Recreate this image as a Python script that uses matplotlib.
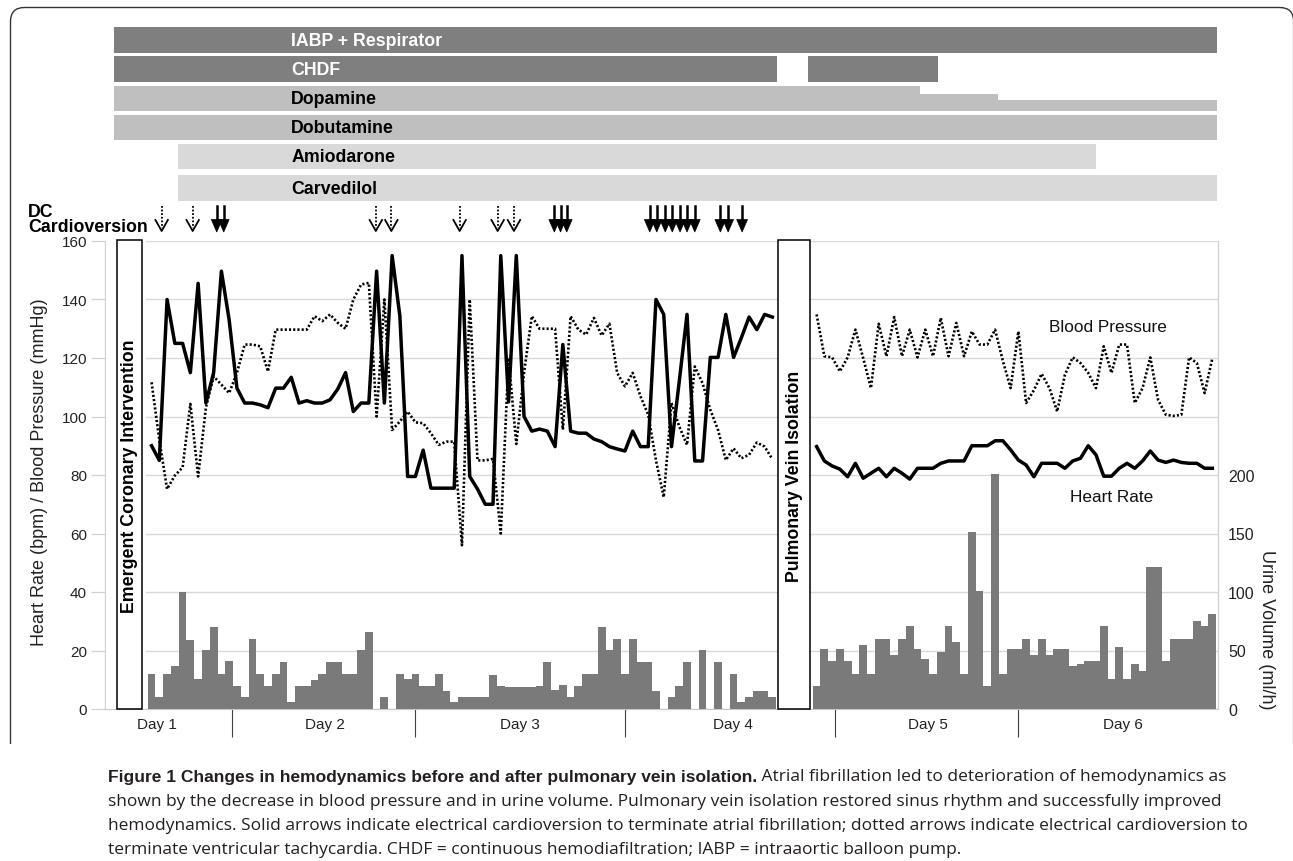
import numpy as np
import matplotlib
matplotlib.use("Agg")
import matplotlib.pyplot as plt
from matplotlib import font_manager
from matplotlib.patches import Rectangle, Polygon, PathPatch
from matplotlib.path import Path

plt.rcParams['font.family'] = ['Liberation Sans', 'DejaVu Sans']

# ---------------------------------------------------------------- data
# one value per measurement slot (approx. hourly), before PVI
hr_pre = [90, 85, 140, 125, 125, 115, 145.5, 104.6, 115, 149.7,
          133, 109.7, 104.6, 104.6, 104, 103, 109.7, 109.7, 113.4, 104.6,
          105.4, 104.6, 104.6, 105.7, 109.4, 115, 101.7, 104.6, 104.6, 149.7,
          104.6, 155, 134.3, 79.5, 79.5, 88.5, 75.5, 75.5, 75.5, 75.5,
          155, 79.5, 75.2, 70, 70, 155, 105, 155, 100, 95,
          95.7, 95, 89.7, 124.6, 95, 94.3, 94.3, 92.3, 91.4, 89.7,
          88.9, 88.2, 95, 89.7, 89.7, 140, 134.9, 89.7, 112, 134.9,
          84.8, 84.8, 120.2, 120.2, 134.9, 120.2, 126.9, 134, 129.7, 134.9,
          134]
bp_pre = [111.7, 92, 75.2, 79.8, 82.6, 104.3, 79.5, 103, 113.7, 110.9,
          108, 114.9, 124.6, 124.6, 124, 115.4, 129.7, 129.7, 129.7, 129.7,
          129.7, 134.3, 132.6, 134.9, 132, 130, 140, 145.1, 145.7, 100,
          140, 95.4, 98.3, 101.7, 98, 97.7, 94.3, 90.3, 91.4, 91.4,
          56, 140, 85, 85, 85.5, 60, 120, 90.6, 115, 134.3,
          130, 130, 130, 95.5, 134.3, 129.7, 128, 133.7, 127.7, 131.7,
          114.9, 110.3, 114.9, 106.9, 100.6, 85, 72.4, 104.6, 96.6, 90.3,
          117.1, 111.4, 102.3, 95.4, 85.1, 89.1, 85.7, 86.9, 91.1, 89.7,
          85.4]
urine_pre = [30, 10.5, 30, 37, 100, 59, 25.6, 50.7, 70.4, 30,
             40.7, 20, 10.5, 59.8, 30, 20, 30, 40, 6.3, 20,
             20, 24.8, 30, 40, 40, 30, 30, 50.7, 65.5, 0,
             10.5, 0, 30, 25.6, 30, 20, 20, 30, 15.1, 6.3,
             10.5, 10.5, 10.5, 10.5, 29.3, 20, 18.5, 18.5, 18.5, 18.5,
             20, 40.2, 16.2, 20.8, 10.5, 20, 30, 30, 70.4, 50.7,
             59.8, 30, 59.8, 40.2, 40.2, 15.1, 0, 10.5, 20, 40.2,
             0, 50.7, 0, 40.2, 0, 30, 6.3, 10.5, 15.1, 15.1,
             10.5]
# after pulmonary vein isolation
hr_post = [89.7, 84.8, 83.1, 82, 79.4, 84, 78.9, 80.6, 82.3, 79.4,
           82.3, 80.6, 78.6, 82.3, 82.3, 82.3, 84, 84.8, 84.8, 84.8,
           90, 90, 90, 91.7, 91.7, 88.6, 85.1, 83.4, 79.4, 84,
           84, 84, 82.3, 84.8, 85.7, 90, 86.9, 79.6, 79.6, 82.3,
           84, 82.3, 84.8, 88.2, 85.1, 84.3, 85.1, 84.3, 84, 84,
           82.3, 82.3]
bp_post = [134.9, 120.6, 120.2, 115.4, 120.2, 129.7, 120, 109.7, 131.7, 120.6,
           134, 120.6, 129.7, 120.2, 129.7, 120.6, 133.7, 120.6, 132, 120.6,
           129.1, 124.6, 124.6, 129.7, 119, 109.7, 129.1, 104.6, 109, 114.6,
           109.7, 101.7, 114.3, 120.2, 118.3, 114.9, 109.7, 124, 114.9, 124.6,
           124.6, 104.6, 109.7, 120.2, 105.7, 100.6, 100.2, 100.6, 120.2, 118.3,
           108, 120]
urine_post = [20, 50.9, 40.6, 50.9, 40.6, 30, 54.3, 30, 60, 60,
              46.3, 60, 70.6, 50.9, 42.9, 30, 49, 70.6, 57, 30,
              151.4, 100.9, 20, 200.9, 30, 51, 51, 60, 46, 60,
              46, 51, 51, 36.6, 38.6, 40.6, 40.6, 70.6, 25.7, 52.6,
              25.7, 38.6, 32.3, 121.4, 121.4, 40.6, 60, 60, 60, 75,
              70.6, 81]

# time index of each slot; the PVI procedure occupies a gap of ~4.7 slots
t_pre = np.arange(len(hr_pre))
t_post = len(hr_pre) + 4.7 + np.arange(len(hr_post))

day_labels = ["Day 1", "Day 2", "Day 3", "Day 4", "Day 5", "Day 6"]
day_bounds = [10.4, 33.9, 61.0, 88.1, 111.6]
day_centers = [0.7, 22.35, 47.5, 74.9, 100.1, 125.2]

therapy_names = ["IABP + Respirator", "CHDF", "Dopamine", "Dobutamine",
                 "Amiodarone", "Carvedilol"]
# (start, end, relative dose) in slot units
therapy_periods = [
    [(-4.84, 137.3, 1.0)],
    [(-4.84, 80.6, 1.0), (84.6, 101.3, 1.0)],
    [(-4.84, 99.0, 1.0), (99.0, 109.1, 0.67), (109.1, 137.3, 0.42)],
    [(-4.84, 137.3, 1.0)],
    [(3.37, 121.7, 1.0)],
    [(3.37, 137.3, 1.0)],
]
dc_vt = [1.3, 5.3, 28.9, 30.9, 39.7, 44.6, 46.7]              # dotted arrows
dc_af = [8.4, 9.3, 51.9, 52.7, 53.5, 64.2, 65.1, 66.2, 67.1,
         68.1, 69.0, 70.0, 73.3, 74.3, 76.1]                   # solid arrows

left_ticks = np.arange(0, 161, 20)
right_ticks = np.arange(0, 201, 50)
eci_span = (-4.49, -1.27)
pvi_span = (80.76, 84.85)

# ---------------------------------------------------------------- layout
W, H = 1293, 862
fig = plt.figure(figsize=(W / 100, H / 100), dpi=100)
fig.patch.set_facecolor('white')


def fbox(x0, y0, x1, y1):
    return [x0 / W, 1 - y1 / H, (x1 - x0) / W, (y1 - y0) / H]


XL = (-6.0, 137.36)
GRID = '#d9d9d9'

# base axes: grid + left axis + day ticks
ax = fig.add_axes(fbox(105, 242, 1217.5, 710))
ax.set_zorder(1)
ax.set_xlim(*XL)
ax.set_ylim(0, 160)
ax.set_yticks(left_ticks)
ax.yaxis.grid(True, color=GRID, lw=1.0)
ax.set_axisbelow(True)
ax.tick_params(axis='y', length=10, width=0.9, color='#d0d0d0', labelsize=11,
               pad=3, labelcolor='#222222')
ax.spines['top'].set_visible(False)
for s in ('left', 'right'):
    ax.spines[s].set_color('#d0d0d0')
    ax.spines[s].set_linewidth(0.9)
ax.spines['bottom'].set_color('#c8c8c8')
ax.set_xticks(day_bounds)
ax.set_xticklabels([])
ax.tick_params(axis='x', which='major', length=20, width=0.8, color='#404040')
ax.set_xticks(day_centers, minor=True)
ax.set_xticklabels(day_labels, minor=True)
ax.tick_params(axis='x', which='minor', length=0, pad=6, labelsize=11,
               labelcolor='#222222')

# urine axis
axu = ax.twinx()
axu.set_zorder(2)
axu.patch.set_visible(False)
axu.set_ylim(0, 400)
axu.set_yticks(right_ticks)
axu.tick_params(axis='y', length=0, pad=7.6, labelsize=11.5, labelcolor='#222222')
for s in axu.spines.values():
    s.set_visible(False)
BAR = '#7a7a7a'
axu.bar(t_pre, urine_pre, width=1.0, color=BAR, linewidth=0)
axu.bar(t_post, urine_post, width=1.0, color=BAR, linewidth=0)

# line axes on top
axl = fig.add_axes(ax.get_position())
axl.set_zorder(3)
axl.patch.set_visible(False)
axl.set_xlim(*XL)
axl.set_ylim(0, 160)
axl.axis('off')
for t, bp in ((t_pre, bp_pre), (t_post, bp_post)):
    axl.plot(t, bp, color='black', lw=1.9, ls=(0, (0.8, 0.8)),
             dash_capstyle='butt', zorder=3)
for t, hr in ((t_pre, hr_pre), (t_post, hr_post)):
    axl.plot(t, hr, color='black', lw=2.5, solid_joinstyle='round', zorder=4)

# procedure boxes
axl.add_patch(Rectangle((-5.87, 0), (-0.655 + 5.87), 160.6, fc='white', ec='none',
                        zorder=5, clip_on=False))
for (a, b), label in ((eci_span, "Emergent Coronary Intervention"),
                      (pvi_span, "Pulmonary Vein Isolation")):
    axl.add_patch(Rectangle((a, 0), b - a, 160.4, fc='white', ec='black', lw=1.1,
                            zorder=6, clip_on=False))
    axl.text((a + b) / 2, 80, label, rotation=90, ha='center', va='center',
             fontsize=12.8, fontweight='bold', zorder=7)

axl.text(115.7, 130.9, "Blood Pressure", ha='left', va='center', fontsize=12.4,
         color='#111111', zorder=7)
axl.text(118.4, 72.5, "Heart Rate", ha='left', va='center', fontsize=12.4,
         color='#111111', zorder=7)

# axis titles
fig.text(40 / W, 1 - 472 / H, "Heart Rate (bpm) / Blood Pressure (mmHg)", rotation=90,
         ha='center', va='center', fontsize=13, color='#222222')
fig.text(1266 / W, 1 - 630 / H, "Urine Volume (ml/h)", rotation=270,
         ha='center', va='center', fontsize=13, color='#222222')

# ---------------------------------------------------------------- therapies
axt = fig.add_axes(fbox(105, 20, 1217.5, 240))
axt.set_xlim(*XL)
axt.set_ylim(240, 20)
axt.axis('off')
row_tops = [28.3, 57.3, 86.7, 115.7, 144.6, 176.0]
row_h = 25.5
row_colors = ['#7f7f7f', '#7f7f7f', '#bfbfbf', '#bfbfbf', '#d9d9d9', '#d9d9d9']
text_colors = ['white', 'white', 'black', 'black', 'black', 'black']
for name, periods, top, fc, tc in zip(therapy_names, therapy_periods, row_tops,
                                      row_colors, text_colors):
    for (a, b, lvl) in periods:
        axt.add_patch(Rectangle((a, top + row_h * (1 - lvl)), b - a, row_h * lvl,
                                fc=fc, ec='none'))
    axt.text(18.0, top + row_h / 2 + 0.5, name, ha='left', va='center',
             fontsize=12.8, fontweight='bold', color=tc)

# cardioversion arrows
for x in dc_vt:
    axt.plot([x, x], [207, 229], color='black', lw=1.3, ls=(0, (1, 1)))
    axt.plot([x - 0.8, x, x + 0.8], [221, 232, 221], color='black', lw=1.3)
for x in dc_af:
    axt.plot([x, x], [207, 223], color='black', lw=1.8)
    axt.add_patch(Polygon([[x - 0.7, 220.5], [x + 0.7, 220.5], [x, 233]],
                          closed=True, fc='black', ec='black', lw=0.5))

fig.text(28 / W, 1 - 217 / H, "DC", ha='left', va='baseline', fontsize=12.8,
         fontweight='bold')
fig.text(28 / W, 1 - 231.5 / H, "Cardioversion", ha='left', va='baseline',
         fontsize=12.8, fontweight='bold')

# ---------------------------------------------------------------- frame + caption
axb = fig.add_axes([0, 0, 1, 1])
axb.set_zorder(0)
axb.patch.set_visible(False)
axb.set_xlim(0, W)
axb.set_ylim(H, 0)
axb.axis('off')
r = 14
xr = 1293.6
verts = [(10.5, 745), (10.5, 8.5 + r), (10.5, 8.5), (10.5 + r, 8.5),
         (xr - r, 8.5), (xr, 8.5), (xr, 8.5 + r), (xr, 745)]
codes = [Path.MOVETO, Path.LINETO, Path.CURVE3, Path.CURVE3,
         Path.LINETO, Path.CURVE3, Path.CURVE3, Path.LINETO]
axb.add_patch(PathPatch(Path(verts, codes), fc='none', ec='#333333', lw=1.0,
                        clip_on=False))


def pick_font(cands):
    for c in cands:
        try:
            font_manager.findfont(font_manager.FontProperties(family=c, weight='bold'),
                                  fallback_to_default=False)
            return c
        except Exception:
            continue
    return 'DejaVu Sans'


bold_font = pick_font(['Liberation Sans Narrow', 'Liberation Sans'])
cap_font = ['Open Sans', 'DejaVu Sans']
cap_size = 12.5
cap_col = '#231f20'
t1 = axb.text(108, 782, "Figure 1 Changes in hemodynamics before and after pulmonary vein isolation.",
              ha='left', va='baseline', fontsize=cap_size, fontweight='bold',
              family=[bold_font, 'DejaVu Sans'], color=cap_col)
axb.annotate(" Atrial fibrillation led to deterioration of hemodynamics as",
             xy=(1, 0), xycoords=t1, ha='left', va='bottom', fontsize=cap_size,
             family=cap_font, color=cap_col)
cap_lines = [
    "shown by the decrease in blood pressure and in urine volume. Pulmonary vein isolation restored sinus rhythm and successfully improved",
    "hemodynamics. Solid arrows indicate electrical cardioversion to terminate atrial fibrillation; dotted arrows indicate electrical cardioversion to",
    "terminate ventricular tachycardia. CHDF = continuous hemodiafiltration; IABP = intraaortic balloon pump.",
]
for k, line in enumerate(cap_lines):
    axb.text(108, 806 + 24 * k, line, ha='left', va='baseline', fontsize=cap_size,
             family=cap_font, color=cap_col)

fig.savefig("out.png", dpi=100)
